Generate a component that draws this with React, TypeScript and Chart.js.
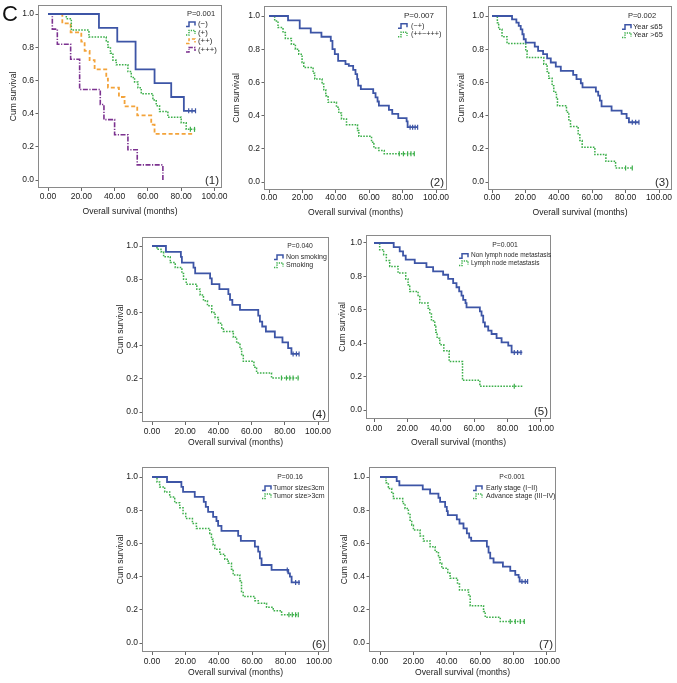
import React, { useEffect, useRef } from 'react';
import { Chart, registerables } from 'chart.js';

Chart.register(...registerables);

const FONT = "'Liberation Sans', Arial, Helvetica, sans-serif";

const X_TICKS = [0, 20, 40, 60, 80, 100];
const Y_TICKS = [0, 0.2, 0.4, 0.6, 0.8, 1.0];
const X_TITLE = 'Overall survival (months)';
const Y_TITLE = 'Cum survival';

// ---------- Panel 1 ----------
const P1_NEG_T = [0, 30.6, 41.6, 52.6, 64, 74, 81.6, 88.6];
const P1_NEG_S = [1, 0.917, 0.833, 0.667, 0.583, 0.5, 0.417, 0.417];
const P1_NEG_C = [84.5, 86.5, 88.6];

const P1_POS_T = [0, 11, 14, 24.6, 35, 36, 37.5, 39, 41, 48, 50, 52, 54, 56, 63, 65, 67, 72, 80, 83, 88.6];
const P1_POS_S = [1, 0.972, 0.903, 0.861, 0.833, 0.8, 0.764, 0.722, 0.694, 0.653, 0.618, 0.59, 0.555, 0.52, 0.482, 0.448, 0.413, 0.378, 0.345, 0.305, 0.305];
const P1_POS_C = [85.5, 88];

const P1_PP_T = [0, 8.6, 13.6, 20, 22, 25, 28, 35, 36, 42.6, 46, 53.6, 62, 64, 87];
const P1_PP_S = [1, 0.944, 0.889, 0.833, 0.778, 0.722, 0.667, 0.611, 0.556, 0.5, 0.444, 0.389, 0.333, 0.278, 0.278];
const P1_PP_C: number[] = [];

const P1_PPP_T = [0, 2.6, 5.6, 13.6, 19, 31.4, 33.6, 40, 48, 53.6, 69];
const P1_PPP_S = [1, 0.909, 0.818, 0.727, 0.545, 0.455, 0.364, 0.273, 0.182, 0.091, 0];
const P1_PPP_C: number[] = [];

// ---------- Panel 2 ----------
const P2_A_T = [0, 11.4, 18.4, 25, 31.4, 37, 38, 39.4, 41.4, 45.8, 47.8, 50.4, 51.8, 52.8, 53.4, 55, 62.4, 63.8, 65, 65.8, 71.8, 73.8, 77.4, 82.4, 83, 89];
const P2_A_S = [1, 0.974, 0.925, 0.9, 0.875, 0.85, 0.8, 0.77, 0.73, 0.71, 0.7, 0.675, 0.65, 0.62, 0.58, 0.56, 0.535, 0.51, 0.485, 0.46, 0.435, 0.41, 0.385, 0.365, 0.33, 0.33];
const P2_A_C = [84.5, 86, 87.5, 89];

const P2_B_T = [0, 3.4, 5.4, 8.4, 9.8, 13.4, 15.8, 17.8, 19.8, 20.8, 26.4, 27.4, 31.8, 32.8, 34, 35.4, 40.4, 41.8, 43.4, 46.4, 53, 53.8, 61.4, 62.8, 65.8, 69, 87];
const P2_B_S = [1, 0.97, 0.93, 0.9, 0.865, 0.83, 0.8, 0.77, 0.72, 0.69, 0.655, 0.62, 0.59, 0.555, 0.52, 0.48, 0.45, 0.415, 0.38, 0.345, 0.31, 0.275, 0.24, 0.205, 0.19, 0.17, 0.17];
const P2_B_C = [78, 80.5, 83, 85, 87];

// ---------- Panel 3 ----------
const P3_A_T = [0, 12, 14.6, 16, 17.2, 18.2, 19, 20.2, 25.6, 27.6, 30.6, 33, 35.2, 38.2, 41.2, 48.6, 50.6, 53.2, 54.2, 62.2, 63.6, 64.6, 65.6, 71.6, 77.6, 80.6, 82, 88];
const P3_A_S = [1, 0.98, 0.96, 0.94, 0.92, 0.89, 0.86, 0.84, 0.815, 0.79, 0.77, 0.745, 0.72, 0.695, 0.67, 0.645, 0.62, 0.595, 0.57, 0.545, 0.52, 0.49, 0.455, 0.43, 0.41, 0.385, 0.36, 0.36];
const P3_A_C = [84, 86, 88];

const P3_B_T = [0, 3.2, 4, 6, 9, 20.2, 21, 31, 33, 34, 36, 37, 38.6, 39.2, 44.6, 46, 47, 51.6, 52.6, 54, 61.6, 68.2, 74, 84];
const P3_B_S = [1, 0.96, 0.92, 0.875, 0.835, 0.79, 0.75, 0.71, 0.665, 0.625, 0.58, 0.54, 0.5, 0.46, 0.42, 0.375, 0.335, 0.29, 0.25, 0.21, 0.165, 0.125, 0.085, 0.085];
const P3_B_C = [80, 84];

// ---------- Panel 4 ----------
const P4_A_T = [0, 8.4, 17.4, 18, 25, 26, 35, 36, 40.6, 46, 47, 48.4, 53, 64, 65, 66.4, 68.6, 74, 78.6, 82, 84, 88.6];
const P4_A_S = [1, 0.965, 0.935, 0.9, 0.87, 0.835, 0.805, 0.77, 0.74, 0.71, 0.675, 0.645, 0.615, 0.58, 0.545, 0.515, 0.485, 0.45, 0.42, 0.385, 0.35, 0.35];
const P4_A_C = [85, 87, 88.6];

const P4_B_T = [0, 3, 5.4, 7, 11, 14, 18, 19, 20.6, 27, 29, 31, 33.4, 36, 38, 40, 42, 43, 49, 51, 53, 54, 55, 61.4, 63, 72, 88.6];
const P4_B_S = [1, 0.98, 0.965, 0.935, 0.9, 0.87, 0.835, 0.8, 0.77, 0.74, 0.705, 0.67, 0.64, 0.6, 0.57, 0.535, 0.5, 0.485, 0.45, 0.415, 0.38, 0.34, 0.305, 0.27, 0.235, 0.205, 0.205];
const P4_B_C = [78, 81, 83, 85, 88];

// ---------- Panel 5 ----------
const P5_A_T = [0, 11.8, 15.4, 17.4, 19, 24.4, 31.4, 35.4, 41.4, 44.4, 47.4, 49.4, 51, 52.4, 53.4, 54.8, 55.4, 63.4, 64.4, 65.4, 66.4, 68.4, 70.4, 73.4, 76.4, 80.4, 82.4, 88.8];
const P5_A_S = [1, 0.975, 0.95, 0.925, 0.9, 0.88, 0.855, 0.83, 0.81, 0.785, 0.76, 0.735, 0.71, 0.685, 0.66, 0.64, 0.615, 0.59, 0.565, 0.525, 0.5, 0.475, 0.455, 0.43, 0.405, 0.385, 0.345, 0.345];
const P5_A_C = [84, 86, 88];

const P5_B_T = [0, 3.4, 5.8, 7.4, 9.4, 14.4, 19, 20.4, 21.4, 26.4, 27.4, 32.4, 33.4, 34.4, 36.4, 37, 37.8, 39.4, 41.8, 45, 53, 63.4, 88.8];
const P5_B_S = [1, 0.96, 0.93, 0.895, 0.86, 0.82, 0.785, 0.75, 0.71, 0.68, 0.64, 0.61, 0.575, 0.535, 0.5, 0.465, 0.43, 0.39, 0.355, 0.29, 0.178, 0.142, 0.142];
const P5_B_C = [84];

// ---------- Panel 6 ----------
const P6_A_T = [0, 9, 17.6, 18.6, 25.6, 31, 32.2, 33.6, 36.6, 38.6, 39.6, 41.6, 51.6, 53.2, 61.6, 63.6, 64.6, 65.6, 71.6, 81.6, 82.6, 83.6, 88.6];
const P6_A_S = [1, 0.97, 0.94, 0.91, 0.88, 0.85, 0.82, 0.79, 0.76, 0.735, 0.705, 0.675, 0.645, 0.615, 0.58, 0.55, 0.51, 0.47, 0.44, 0.42, 0.4, 0.365, 0.365];
const P6_A_C = [81, 86, 88];

const P6_B_T = [0, 3, 4.6, 7.6, 10.6, 13.6, 16.6, 18.6, 20.2, 24.2, 26.6, 34.6, 35.6, 36.6, 37.6, 40.6, 43.6, 45.6, 47.6, 48.6, 52.6, 53.6, 54.6, 61.6, 63.6, 68.6, 72.6, 77.6, 87.6];
const P6_B_S = [1, 0.97, 0.94, 0.91, 0.88, 0.845, 0.815, 0.78, 0.75, 0.72, 0.69, 0.66, 0.625, 0.59, 0.565, 0.535, 0.505, 0.48, 0.445, 0.41, 0.375, 0.31, 0.28, 0.255, 0.24, 0.215, 0.195, 0.17, 0.17];
const P6_B_C = [82, 84, 86, 87.6];

// ---------- Panel 7 ----------
const P7_A_T = [0, 10, 11.6, 25.6, 30, 35, 36, 39, 40, 40.6, 46, 47.6, 50, 52, 53.4, 54.6, 64, 65, 66, 68, 73.6, 78, 81, 83, 83.6, 88.4];
const P7_A_S = [1, 0.975, 0.95, 0.925, 0.9, 0.875, 0.85, 0.82, 0.795, 0.77, 0.745, 0.72, 0.69, 0.66, 0.635, 0.615, 0.58, 0.545, 0.51, 0.485, 0.46, 0.435, 0.41, 0.395, 0.37, 0.37];
const P7_A_C = [85, 87, 88.4];

const P7_B_T = [0, 3.6, 5, 7, 8, 13.6, 15, 17, 18, 19, 20, 24, 26, 30, 33, 35, 36, 37, 40.6, 42, 46.4, 47.6, 53, 54, 62, 63, 72, 86.4];
const P7_B_S = [1, 0.965, 0.93, 0.9, 0.87, 0.84, 0.81, 0.78, 0.74, 0.71, 0.68, 0.645, 0.615, 0.58, 0.55, 0.515, 0.48, 0.45, 0.42, 0.39, 0.355, 0.32, 0.29, 0.225, 0.19, 0.155, 0.13, 0.13];
const P7_B_C = [78, 81, 84, 86.4];

// ---------- styles ----------
const STYLES: Record<string, { color: string; dash: number[]; width: number }> = {
  blue: { color: '#3d55a6', dash: [], width: 1.8 },
  green: { color: '#3caf4a', dash: [1.6, 1.3], width: 1.5 },
  orange: { color: '#f3a33a', dash: [4, 2.5], width: 1.8 },
  purple: { color: '#7c3290', dash: [5, 1.5, 1.2, 1.5], width: 1.6 },
};

type Series = { label: string; t: number[]; s: number[]; c: number[]; style: string };
type PanelCfg = {
  num: string;
  box: [number, number, number, number];
  x0: number; x100: number; y1: number; y0: number;
  yW: number; yTitleX: number; tickY: number; xTitleY: number;
  pText: string; pX: number; pY: number; pFont: number;
  legFont: number; iconX: number; textX: number; rows: number[];
  letter?: boolean;
  series: Series[];
};

const PANELS: PanelCfg[] = [
  {
    num: '(1)', box: [38, 5, 222, 188], x0: 48, x100: 214.5, y1: 14, y0: 180,
    yW: 38, yTitleX: 14, tickY: 197, xTitleY: 212,
    pText: 'P=0.001', pX: 201, pY: 14, pFont: 7.5, legFont: 7.8, iconX: 186, textX: 198, rows: [24, 32.5, 41, 49.5],
    letter: true,
    series: [
      { label: '(−)', t: P1_NEG_T, s: P1_NEG_S, c: P1_NEG_C, style: 'blue' },
      { label: '(+)', t: P1_POS_T, s: P1_POS_S, c: P1_POS_C, style: 'green' },
      { label: '(++)', t: P1_PP_T, s: P1_PP_S, c: P1_PP_C, style: 'orange' },
      { label: '(+++)', t: P1_PPP_T, s: P1_PPP_S, c: P1_PPP_C, style: 'purple' },
    ],
  },
  {
    num: '(2)', box: [264, 6, 447, 190], x0: 269, x100: 436, y1: 16, y0: 182,
    yW: 39, yTitleX: 237, tickY: 198, xTitleY: 213,
    pText: 'P=0.007', pX: 419, pY: 16, pFont: 8, legFont: 7.3, iconX: 398, textX: 411, rows: [25.7, 34.3],
    series: [
      { label: '(−+)', t: P2_A_T, s: P2_A_S, c: P2_A_C, style: 'blue' },
      { label: '(++−+++)', t: P2_B_T, s: P2_B_S, c: P2_B_C, style: 'green' },
    ],
  },
  {
    num: '(3)', box: [488, 6, 672, 190], x0: 492, x100: 659, y1: 16, y0: 182,
    yW: 38, yTitleX: 462, tickY: 198, xTitleY: 213,
    pText: 'P=0.002', pX: 642, pY: 16, pFont: 7.5, legFont: 7.5, iconX: 622, textX: 633, rows: [26.7, 35],
    series: [
      { label: 'Year ≤65', t: P3_A_T, s: P3_A_S, c: P3_A_C, style: 'blue' },
      { label: 'Year >65', t: P3_B_T, s: P3_B_S, c: P3_B_C, style: 'green' },
    ],
  },
  {
    num: '(4)', box: [142, 237, 329, 422], x0: 152, x100: 318, y1: 246, y0: 412,
    yW: 37, yTitleX: 121, tickY: 432, xTitleY: 443,
    pText: 'P=0.040', pX: 300, pY: 246, pFont: 6.8, legFont: 7, iconX: 274, textX: 286, rows: [257, 265],
    series: [
      { label: 'Non smoking', t: P4_A_T, s: P4_A_S, c: P4_A_C, style: 'blue' },
      { label: 'Smoking', t: P4_B_T, s: P4_B_S, c: P4_B_C, style: 'green' },
    ],
  },
  {
    num: '(5)', box: [366, 235, 551, 419], x0: 374, x100: 541, y1: 243, y0: 410,
    yW: 38, yTitleX: 343, tickY: 429, xTitleY: 443,
    pText: 'P=0.001', pX: 505, pY: 245, pFont: 6.8, legFont: 6.5, iconX: 459, textX: 471, rows: [255.7, 263],
    series: [
      { label: 'Non lymph node metastasis', t: P5_A_T, s: P5_A_S, c: P5_A_C, style: 'blue' },
      { label: 'Lymph node metastasis', t: P5_B_T, s: P5_B_S, c: P5_B_C, style: 'green' },
    ],
  },
  {
    num: '(6)', box: [142, 467, 329, 652], x0: 152, x100: 319, y1: 477, y0: 643,
    yW: 37, yTitleX: 121, tickY: 662, xTitleY: 673,
    pText: 'P=00.16', pX: 290, pY: 477, pFont: 6.8, legFont: 7, iconX: 262, textX: 273, rows: [488, 496],
    series: [
      { label: 'Tumor size≤3cm', t: P6_A_T, s: P6_A_S, c: P6_A_C, style: 'blue' },
      { label: 'Tumor size>3cm', t: P6_B_T, s: P6_B_S, c: P6_B_C, style: 'green' },
    ],
  },
  {
    num: '(7)', box: [369, 467, 556, 652], x0: 380, x100: 547, y1: 477, y0: 643,
    yW: 39, yTitleX: 345, tickY: 662, xTitleY: 673,
    pText: 'P<0.001', pX: 512, pY: 477, pFont: 6.8, legFont: 7, iconX: 473, textX: 486, rows: [488, 496],
    series: [
      { label: 'Early stage (I−II)', t: P7_A_T, s: P7_A_S, c: P7_A_C, style: 'blue' },
      { label: 'Advance stage (III−IV)', t: P7_B_T, s: P7_B_S, c: P7_B_C, style: 'green' },
    ],
  },
];

function survAt(t: number[], s: number[], x: number): number {
  let v = s[0];
  for (let i = 0; i < t.length; i++) if (t[i] <= x) v = s[i];
  return v;
}

const TICK_FONT = 8.5;
const TITLE_FONT = 8.6;
const LINE_H = 1.2;

function drawIcon(ctx: CanvasRenderingContext2D, x: number, y: number, style: string) {
  const st = STYLES[style];
  ctx.save();
  ctx.strokeStyle = st.color;
  ctx.lineWidth = Math.min(st.width, 1.5);
  ctx.setLineDash(st.dash.map((d) => d * 0.8));
  ctx.beginPath();
  ctx.moveTo(x, y + 2.5);
  ctx.lineTo(x + 3, y + 2.5);
  ctx.lineTo(x + 3, y - 2);
  ctx.lineTo(x + 9, y - 2);
  ctx.lineTo(x + 9, y + 1.5);
  ctx.stroke();
  ctx.restore();
}

function Panel({ p }: { p: PanelCfg }) {
  const ref = useRef<HTMLCanvasElement>(null);
  const [l, t, r, b] = p.box;
  const cx = l - p.yW;
  const cy = t - 10;
  const cw = r + 12 - cx;
  const ch = p.xTitleY + 8 - cy;

  useEffect(() => {
    const canvas = ref.current;
    if (!canvas) return;
    const xSpan = p.x100 - p.x0;
    const ySpan = p.y0 - p.y1;
    const xmin = ((l - p.x0) / xSpan) * 100;
    const xmax = ((r - p.x0) / xSpan) * 100;
    const ymax = (p.y0 - t) / ySpan;
    const ymin = (p.y0 - b) / ySpan;

    const datasets: any[] = [];
    p.series.forEach((s) => {
      const st = STYLES[s.style];
      datasets.push({
        label: s.label,
        data: s.t.map((x, i) => ({ x, y: s.s[i] })),
        showLine: true,
        stepped: true,
        borderColor: st.color,
        backgroundColor: st.color,
        borderWidth: st.width,
        borderDash: st.dash,
        pointRadius: 0,
        pointHoverRadius: 0,
        fill: false,
      });
      if (s.c.length) {
        datasets.push({
          label: s.label + ' censored',
          data: s.c.map((x) => ({ x, y: survAt(s.t, s.s, x) })),
          showLine: false,
          pointStyle: 'line',
          rotation: 90,
          pointRadius: 2.5,
          borderColor: st.color,
          backgroundColor: st.color,
          borderWidth: 1.2,
        });
      }
    });

    const tickLen = 3;
    const xAxisH = cy + ch - b;
    const xTickPad = Math.max(0, p.tickY - 5 - b - tickLen);
    const titleHalf = (TITLE_FONT * LINE_H) / 2;
    const xTitlePad = Math.max(0, cy + ch - p.xTitleY - titleHalf);
    const yTitlePad = Math.max(0, p.yTitleX - cx - titleHalf);

    const framePlugin = {
      id: 'frame' + p.num,
      afterDatasetsDraw(chart: any) {
        const { ctx, chartArea: a } = chart;
        ctx.save();
        ctx.strokeStyle = '#8a8a8a';
        ctx.lineWidth = 1;
        ctx.setLineDash([]);
        ctx.strokeRect(Math.round(a.left) + 0.5, Math.round(a.top) + 0.5, Math.round(a.right - a.left) - 1, Math.round(a.bottom - a.top) - 1);
        ctx.restore();
      },
    };

    const annotPlugin = {
      id: 'annot' + p.num,
      afterDraw(chart: any) {
        const ctx: CanvasRenderingContext2D = chart.ctx;
        ctx.save();
        ctx.fillStyle = '#2a2a2a';
        ctx.textBaseline = 'middle';
        ctx.textAlign = 'center';
        ctx.font = `${p.pFont}px ${FONT}`;
        ctx.fillText(p.pText, p.pX - cx, p.pY - cy);
        ctx.textAlign = 'left';
        ctx.font = `${p.legFont}px ${FONT}`;
        p.series.forEach((s, i) => {
          drawIcon(ctx, p.iconX - cx, p.rows[i] - cy, s.style);
          ctx.fillText(s.label, p.textX - cx, p.rows[i] - cy);
        });
        ctx.font = `11.5px ${FONT}`;
        ctx.textAlign = 'right';
        ctx.textBaseline = 'alphabetic';
        ctx.fillText(p.num, r - 3 - cx, b - 4 - cy);
        if (p.letter) {
          ctx.font = `22px ${FONT}`;
          ctx.textAlign = 'left';
          ctx.textBaseline = 'alphabetic';
          ctx.fillStyle = '#111';
          ctx.fillText('C', 2 - cx, 21 - cy);
        }
        ctx.restore();
      },
    };

    const chart = new Chart(canvas, {
      type: 'scatter',
      data: { datasets },
      plugins: [framePlugin, annotPlugin],
      options: {
        animation: false,
        responsive: false,
        events: [],
        layout: { padding: { top: t - cy, right: cx + cw - r, left: 0, bottom: 0 } },
        plugins: { legend: { display: false }, tooltip: { enabled: false } },
        scales: {
          x: {
            type: 'linear',
            min: xmin,
            max: xmax,
            afterBuildTicks: (s: any) => {
              s.ticks = X_TICKS.map((v) => ({ value: v }));
            },
            afterFit: (s: any) => {
              s.height = xAxisH;
            },
            ticks: {
              autoSkip: false,
              maxRotation: 0,
              padding: xTickPad,
              color: '#222',
              font: { family: FONT, size: TICK_FONT },
              callback: (v: any) => Number(v).toFixed(2),
            },
            grid: { display: true, drawOnChartArea: false, drawTicks: true, tickLength: tickLen, tickColor: '#666', color: '#666' },
            border: { display: false },
            title: {
              display: true,
              text: X_TITLE,
              color: '#222',
              font: { family: FONT, size: TITLE_FONT },
              padding: { top: 0, bottom: xTitlePad },
            },
          },
          y: {
            type: 'linear',
            min: ymin,
            max: ymax,
            afterBuildTicks: (s: any) => {
              s.ticks = Y_TICKS.map((v) => ({ value: v }));
            },
            afterFit: (s: any) => {
              s.width = p.yW;
            },
            ticks: {
              autoSkip: false,
              padding: 1.5,
              color: '#222',
              font: { family: FONT, size: TICK_FONT },
              callback: (v: any) => Number(v).toFixed(1),
            },
            grid: { display: true, drawOnChartArea: false, drawTicks: true, tickLength: 2.5, tickColor: '#666', color: '#666' },
            border: { display: false },
            title: {
              display: true,
              text: Y_TITLE,
              color: '#222',
              font: { family: FONT, size: TITLE_FONT },
              padding: { top: yTitlePad, bottom: 0 },
            },
          },
        },
      } as any,
    });
    return () => chart.destroy();
  }, []);

  return (
    <canvas
      ref={ref}
      width={cw}
      height={ch}
      style={{ position: 'absolute', left: cx, top: cy, width: cw, height: ch }}
    />
  );
}

export default function App() {
  return (
    <div
      style={{
        position: 'absolute',
        left: 0,
        top: 0,
        width: 677,
        height: 683,
        background: '#ffffff',
        overflow: 'hidden',
      }}
    >
      {PANELS.map((p) => (
        <Panel key={p.num} p={p} />
      ))}
    </div>
  );
}
